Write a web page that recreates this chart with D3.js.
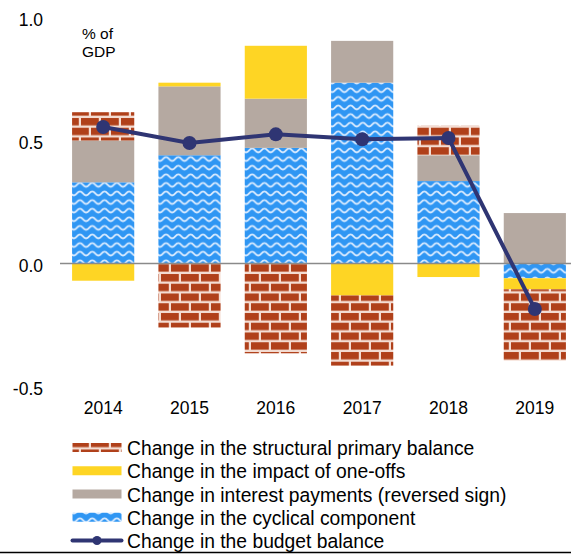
<!DOCTYPE html>
<html>
<head>
<meta charset="utf-8">
<script src="https://cdn.jsdelivr.net/npm/d3@7"></script>
<style>
  html, body { margin: 0; padding: 0; background: #fff; }
  svg { display: block; font-family: "Liberation Sans", Arial, sans-serif; }
</style>
</head>
<body>
<svg id="chart" width="571" height="554"></svg>
<script>
// ---- Data ----
const years = ["2014", "2015", "2016", "2017", "2018", "2019"];
const cyclical   = [0.33, 0.44, 0.47, 0.735, 0.335, -0.06];
const interest   = [0.17, 0.28, 0.20, 0.17, 0.105, 0.205];
const oneoffs    = [-0.07, 0.015, 0.215, -0.13, -0.055, -0.045];
const structural = [0.115, -0.26, -0.365, -0.285, 0.12, -0.29];
const balance    = [0.555, 0.49, 0.525, 0.505, 0.51, -0.185];
const yTicks = [-0.5, 0.0, 0.5, 1.0];
const unitLabel = ["% of", "GDP"];
const legendLabels = [
  "Change in the structural primary balance",
  "Change in the impact of one-offs",
  "Change in interest payments (reversed sign)",
  "Change in the cyclical component",
  "Change in the budget balance"
];

// ---- Setup ----
const svg = d3.select("#chart");
const W = 571;
const x = d3.scaleBand().domain(years).range([60, 578]).paddingInner(0.28).paddingOuter(0.14);
const y = d3.scaleLinear().domain([-0.5, 1.0]).range([386.5, 17.5]);

const defs = svg.append("defs");
// brick pattern
const brick = defs.append("pattern").attr("id", "brick").attr("patternUnits", "userSpaceOnUse")
  .attr("width", 20).attr("height", 19.5);
brick.append("rect").attr("width", 20).attr("height", 19.5).attr("fill", "#f4ddd3");
[[1, 1], [-9, 10.75], [11, 10.75]].forEach(([bx, by]) => {
  brick.append("rect").attr("x", bx).attr("y", by).attr("width", 17.8).attr("height", 7.4).attr("fill", "#b0401a");
});
// wave pattern
const wave = defs.append("pattern").attr("id", "wave").attr("patternUnits", "userSpaceOnUse")
  .attr("width", 12.3).attr("height", 8.6);
wave.append("rect").attr("width", 12.3).attr("height", 8.6).attr("fill", "#2f96f3");
wave.append("path").attr("d", "M0,6.2 C3.2,6.2 3,2.2 6.15,2.2 S9.1,6.2 12.3,6.2")
  .attr("fill", "none").attr("stroke", "#dcecff").attr("stroke-width", 1.7);

const seriesKeys = ["cyclical", "interest", "oneoffs", "structural"];
const fills = { cyclical: "url(#wave)", interest: "#b5a9a1", oneoffs: "#fed524", structural: "url(#brick)" };
const rows = years.map((yr, i) => ({
  year: yr, cyclical: cyclical[i], interest: interest[i], oneoffs: oneoffs[i], structural: structural[i]
}));
const stacked = d3.stack().keys(seriesKeys).offset(d3.stackOffsetDiverging)(rows);

// bars
svg.append("g").selectAll("g").data(stacked).join("g")
  .attr("fill", d => fills[d.key])
  .selectAll("rect").data(d => d).join("rect")
  .attr("x", d => x(d.data.year))
  .attr("width", x.bandwidth())
  .attr("y", d => y(Math.max(d[0], d[1])))
  .attr("height", d => Math.abs(y(d[0]) - y(d[1])));

// zero line
svg.append("line").attr("x1", 60).attr("x2", W).attr("y1", y(0)).attr("y2", y(0))
  .attr("stroke", "#8a8a8a").attr("stroke-width", 1.5);

// balance line
const cx = d => x(d) + x.bandwidth() / 2;
svg.append("path").datum(balance)
  .attr("d", d3.line().x((d, i) => cx(years[i])).y(d => y(d)))
  .attr("fill", "none").attr("stroke", "#2f3573").attr("stroke-width", 4);
svg.append("g").selectAll("circle").data(balance).join("circle")
  .attr("cx", (d, i) => cx(years[i])).attr("cy", d => y(d)).attr("r", 7).attr("fill", "#2f3573");

// y axis
const yAxis = svg.append("g").attr("transform", "translate(46,0)")
  .call(d3.axisLeft(y).tickValues(yTicks).tickSize(0).tickPadding(3).tickFormat(d => d.toFixed(1)));
yAxis.select(".domain").remove();
yAxis.selectAll("text").attr("font-size", 17.5).attr("font-family", "Liberation Sans, Arial, sans-serif")
  .attr("fill", "#000").attr("dy", "0.45em");

// x axis
const xAxis = svg.append("g").attr("transform", "translate(0,402)")
  .call(d3.axisBottom(x).tickSize(0).tickPadding(0));
xAxis.select(".domain").remove();
xAxis.selectAll("text").attr("font-size", 17.5).attr("font-family", "Liberation Sans, Arial, sans-serif")
  .attr("fill", "#000").attr("dy", "0.71em");

// unit label
svg.append("text").attr("x", 82).attr("y", 38.5).attr("font-size", 15.5).text(unitLabel[0]);
svg.append("text").attr("x", 82).attr("y", 56.5).attr("font-size", 15.5).text(unitLabel[1]);

// legend
const legendFills = ["url(#brick)", "#fed524", "#b5a9a1", "url(#wave)"];
const lg = svg.append("g");
legendLabels.forEach((lab, i) => {
  const base = 455 + i * 23.25;
  const cyv = base - 7.5;
  if (i < 4) {
    lg.append("rect").attr("x", 72.5).attr("y", cyv - 4.5).attr("width", 49).attr("height", 9)
      .attr("fill", legendFills[i]);
  } else {
    lg.append("line").attr("x1", 72.5).attr("x2", 121.5).attr("y1", cyv).attr("y2", cyv)
      .attr("stroke", "#2f3573").attr("stroke-width", 4).attr("stroke-linecap", "round");
    lg.append("circle").attr("cx", 97).attr("cy", cyv).attr("r", 4.5).attr("fill", "#2f3573");
  }
  lg.append("text").attr("x", 127).attr("y", base).attr("font-size", 19.3).attr("fill", "#000").text(lab);
});

// bottom border
svg.append("line").attr("x1", 0).attr("x2", W).attr("y1", 552.5).attr("y2", 552.5)
  .attr("stroke", "#000").attr("stroke-width", 1.5);
</script>
</body>
</html>
